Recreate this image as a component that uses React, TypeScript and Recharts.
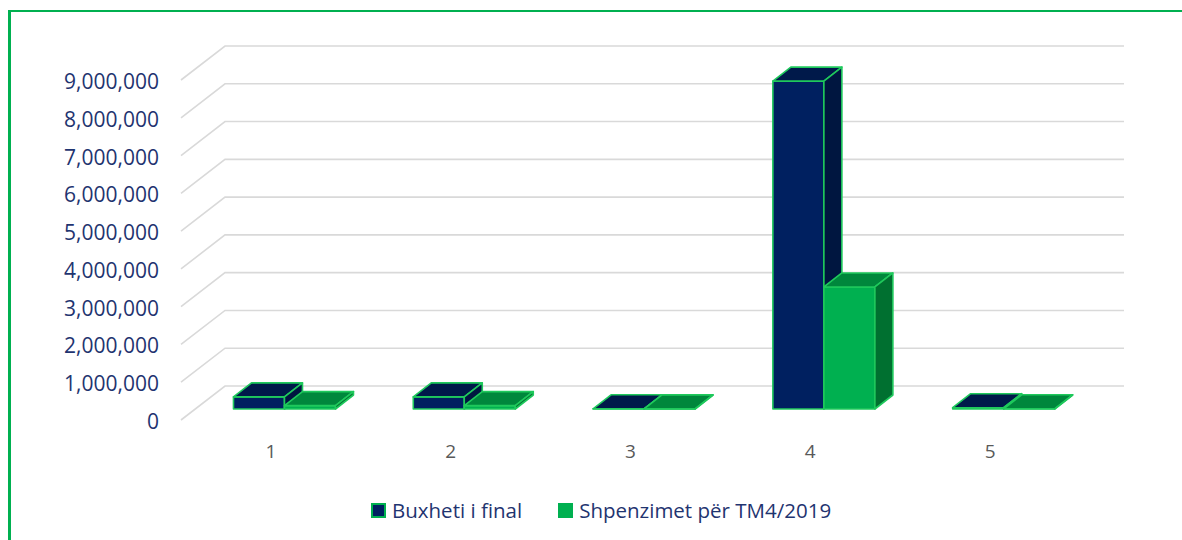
import { Bar, BarChart, CartesianGrid, XAxis, YAxis } from "recharts";

const categories = ["1", "2", "3", "4", "5"];
const buxhetiFinal = [320000, 320000, 5000, 8680000, 35000];
const shpenzimetTM4 = [90000, 90000, 3000, 3230000, 5000];
const yTicks = [0, 1000000, 2000000, 3000000, 4000000, 5000000, 6000000, 7000000, 8000000, 9000000];

const seriesNames = ["Buxheti i final", "Shpenzimet për TM4/2019"];

const data = categories.map((name, i) => ({
  name,
  buxheti: buxhetiFinal[i],
  shpenzimet: shpenzimetTM4[i],
}));

// 3D projection offsets relative to the plane where the bars' front faces sit
const FRONT = { dx: -14, dy: 12 };
const BACK = { dx: 30, dy: -23 };
const DEPTH = { dx: 18, dy: -14 };

const FONT = "'Open Sans', 'Noto Sans', sans-serif";
const EDGE = "#1FC95C";

const BLUE = { front: "#002060", top: "#00194A", side: "#001640" };
const GREEN = { front: "#00B050", top: "#00873C", side: "#007030" };

function Bar3D(props: any) {
  const { x, y, width, height, colors } = props;
  if (x == null || y == null) return null;
  const w = width;
  const h = Math.max(height, 0);
  const { dx, dy } = DEPTH;
  return (
    <g stroke={EDGE} strokeWidth={1.6} strokeLinejoin="round">
      <rect x={x} y={y} width={w} height={h} fill={colors.front} />
      <path
        d={`M${x},${y} L${x + dx},${y + dy} L${x + w + dx},${y + dy} L${x + w},${y} Z`}
        fill={colors.top}
      />
      <path
        d={`M${x + w},${y} L${x + w + dx},${y + dy} L${x + w + dx},${y + h + dy} L${x + w},${y + h} Z`}
        fill={colors.side}
      />
    </g>
  );
}

function gridLine(props: any) {
  const { x1, y1, x2, key } = props;
  const d = `M${x1 + FRONT.dx},${y1 + FRONT.dy - 1} L${x1 + BACK.dx},${y1 + BACK.dy} L${x2 + BACK.dx},${y1 + BACK.dy}`;
  return <path key={key} d={d} fill="none" stroke="#D9D9D9" strokeWidth={1.6} />;
}

function YTick(props: any) {
  const { x, y, payload } = props;
  return (
    <text
      x={x}
      y={y + FRONT.dy}
      textAnchor="end"
      dominantBaseline="central"
      fill="#1F3470"
      fontSize={21}
      fontFamily={FONT}
    >
      {Number(payload.value).toLocaleString("en-US")}
    </text>
  );
}

function XTick(props: any) {
  const { x, y, payload } = props;
  return (
    <text
      x={x + FRONT.dx}
      y={y + FRONT.dy}
      textAnchor="middle"
      dominantBaseline="central"
      fill="#595959"
      fontSize={19}
      fontFamily={FONT}
    >
      {payload.value}
    </text>
  );
}

function LegendRow() {
  const items = [
    { label: seriesNames[0], fill: BLUE.front, border: GREEN.front },
    { label: seriesNames[1], fill: GREEN.front, border: GREEN.front },
  ];
  return (
    <div
      style={{
        position: "absolute",
        left: 371,
        top: 496,
        display: "flex",
        alignItems: "center",
        fontFamily: FONT,
        fontSize: 20.5,
        color: "#1F3470",
        whiteSpace: "nowrap",
      }}
    >
      {items.map((it, i) => (
        <div key={it.label} style={{ display: "flex", alignItems: "center", marginLeft: i ? 36 : 0 }}>
          <span
            style={{
              display: "inline-block",
              width: 11,
              height: 11,
              background: it.fill,
              border: `2px solid ${it.border}`,
              marginRight: 6,
            }}
          />
          <span>{it.label}</span>
        </div>
      ))}
    </div>
  );
}

export default function App() {
  return (
    <div style={{ position: "fixed", left: 0, top: 0, width: 1182, height: 540, background: "#fff", overflow: "hidden" }}>
      <div
        style={{
          position: "absolute",
          left: 8,
          top: 10,
          right: -10,
          bottom: -10,
          borderLeft: "3px solid #00B050",
          borderTop: "2px solid #00B050",
        }}
      />
      <div style={{ position: "absolute", left: 0, top: 0 }}>
        <BarChart
          width={1182}
          height={540}
          data={data}
          margin={{ top: 69, right: 88, left: 35, bottom: 71 }}
          barCategoryGap="21.4%"
          barGap={0}
        >
          <CartesianGrid vertical={false} horizontal={gridLine} />
          <XAxis
            dataKey="name"
            axisLine={false}
            tickLine={false}
            tickSize={0}
            tickMargin={30}
            height={60}
            tick={<XTick />}
            interval={0}
          />
          <YAxis
            domain={[0, 9000000]}
            ticks={yTicks}
            axisLine={false}
            tickLine={false}
            tickSize={0}
            tickMargin={36}
            width={160}
            tick={<YTick />}
            interval={0}
          />
          <Bar
            dataKey="buxheti"
            name={seriesNames[0]}
            fill={BLUE.front}
            isAnimationActive={false}
            shape={(p: any) => <Bar3D {...p} colors={BLUE} />}
          />
          <Bar
            dataKey="shpenzimet"
            name={seriesNames[1]}
            fill={GREEN.front}
            isAnimationActive={false}
            shape={(p: any) => <Bar3D {...p} colors={GREEN} />}
          />
        </BarChart>
      </div>
      <LegendRow />
    </div>
  );
}
